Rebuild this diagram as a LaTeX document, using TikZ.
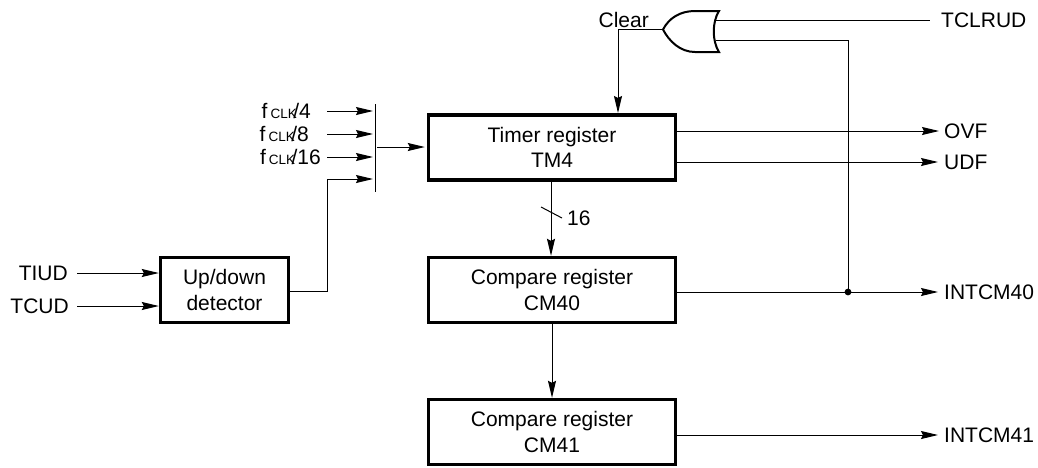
\documentclass[tikz,border=0pt]{standalone}
\usepackage{fontspec}
\setmainfont{Liberation Sans}
\usetikzlibrary{arrows.meta}
\tikzset{
  reg/.style={draw,line width=3.4pt,minimum width=247pt,minimum height=65pt,align=center,inner sep=0pt,font=\fontsize{21}{25.5}\selectfont},
  sig/.style={inner sep=0pt,font=\fontsize{21}{24}\selectfont},
  wire/.style={line width=1pt},
  arr/.style={wire,-{Stealth[length=17pt,width=8pt,inset=2pt]}}
}
\newcommand{\fclk}[1]{f\kern3pt{\fontsize{13.5}{14}\selectfont CLK}\kern-3.5pt/#1}

\begin{document}
\begin{tikzpicture}[x=1pt,y=-1pt]
    \useasboundingbox (0,0) rectangle (1038,467);

    \node[reg] (TM) at (552,147.5) {Timer register\\TM4};
    \node[reg] (CA) at (552,290) {Compare register\\CM40};
    \node[reg] (CB) at (552,432) {Compare register\\CM41};
    \node[reg,minimum width=128pt] (UD) at (224.5,290) {Up/down\\detector};

    % selector bar
    \coordinate (barT) at (375,104);
    \coordinate (barB) at (375,192);
    \draw[wire] (barT) -- (barB);

    % clock inputs
    \node[sig,anchor=east] (F4) at (311,111) {\fclk{4}};
    \node[sig,anchor=east] (F8) at (309,134) {\fclk{8}};
    \node[sig,anchor=east] (F16) at (321,157) {\fclk{16}};
    \coordinate (S4) at (327,111);
    \coordinate (S8) at (327,134);
    \coordinate (S16) at (327,157);
    \coordinate (S17) at (327,179);
    \coordinate (barOut) at (377,147);
    \draw[arr,shorten >=2pt] (S4) -- (barT |- S4);
    \draw[arr,shorten >=2pt] (S8) -- (barT |- S8);
    \draw[arr,shorten >=2pt] (S16) -- (barT |- S16);
    \draw[wire] (UD.east |- 0,291) -- (327,291) -- (S17);
    \draw[arr,shorten >=2pt] (S17) -- (barT |- S17);
    \draw[arr,shorten >=2pt] (barOut) -- (TM.west |- barOut);

    % up/down inputs
    \node[sig,anchor=east] (TI) at (68,273) {TIUD};
    \node[sig,anchor=east] (TC) at (69,306) {TCUD};
    \coordinate (SI) at (77,273);
    \coordinate (SC) at (77,306);
    \draw[arr] (SI) -- (UD.west |- SI);
    \draw[arr] (SC) -- (UD.west |- SC);

    % vertical chain
    \draw[arr] (TM.south -| 551,0) -- (CA.north -| 551,0);
    \draw[arr] (CA) -- (CB);
    \coordinate (tickA) at (541,207);
    \coordinate (tickB) at (562,218);
    \draw[wire] (tickA) -- (tickB);
    \node[sig,anchor=west] (N) at (567,218) {16};

    % OR gate
    \coordinate (G1) at (663,29.5);
    \coordinate (G2) at (716,20);
    \coordinate (G3) at (716,40);
    \coordinate (clr) at (618,113);
    \draw[line width=2pt] (G1) .. controls (669,18) and (680,11) .. (695,11)
      -- (719,11) .. controls (712,22) and (712,41) .. (719,52) -- (695,52)
      .. controls (680,52) and (669,41) .. (G1) -- cycle;
    \node[sig,anchor=east] (CL) at (649,20) {Clear};
    \draw[arr] (G1) -| (clr);

    % right side
    \node[sig,anchor=west] (TR) at (941,20) {TCLRUD};
    \coordinate (TRin) at (930,20);
    \draw[wire] (G2) -- (TRin);
    \node[sig,anchor=west] (OV) at (944,131) {OVF};
    \node[sig,anchor=west] (UF) at (944,162) {UDF};
    \node[sig,anchor=west] (I0) at (944,292) {INTCM40};
    \node[sig,anchor=west] (I1) at (944,435) {INTCM41};
    \coordinate (dot) at (848,292);
    \draw[wire] (G3) -| (dot);
    \fill (dot) circle (3.4pt);
    \draw[arr,shorten >=5pt] (TM.east |- OV) -- (OV.west);
    \draw[arr,shorten >=6pt] (TM.east |- UF) -- (UF.west);
    \draw[arr,shorten >=6pt] (CA.east |- I0) -- (I0.west);
    \draw[arr,shorten >=6pt] (CB.east |- I1) -- (I1.west);
\end{tikzpicture}
\end{document}
